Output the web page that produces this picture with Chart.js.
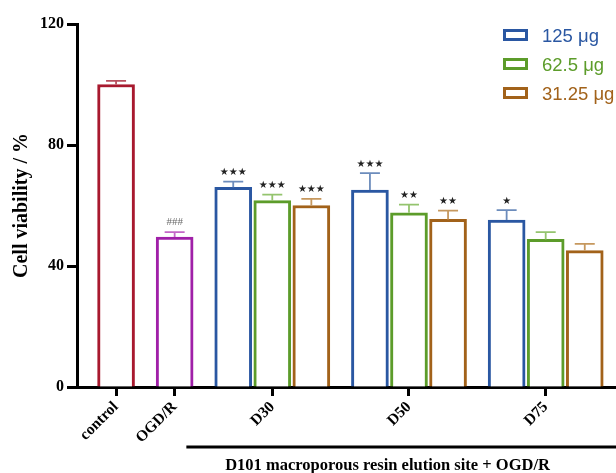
<!DOCTYPE html>
<html>
<head>
<meta charset="utf-8">
<script src="https://cdn.jsdelivr.net/npm/chart.js@4"></script>
<style>
  html, body { margin: 0; padding: 0; background: #fff; }
  #wrap { width: 616px; height: 473px; }
</style>
</head>
<body>
<div id="wrap"><canvas id="chart" width="616" height="473"></canvas></div>
<script>
// data
const categories = ["control", "OGD/R", "D30", "D50", "D75"];
const doseLabels = ["125 μg", "62.5 μg", "31.25 μg"];
const refMeans = [100.0, 49.6];      // control, OGD/R
const refErrs = [1.2, 1.6];
const refMarks = ["", "###"];
const dose125 = [66.0, 65.1, 55.2];  // D30, D50, D75
const err125 = [1.9, 5.6, 3.3];
const marks125 = ["***", "***", "*"];
const dose62 = [61.6, 57.6, 48.8];
const err62 = [2.0, 2.7, 2.4];
const marks62 = ["***", "**", ""];
const dose31 = [60.0, 55.4, 45.1];
const err31 = [2.2, 2.9, 2.2];
const marks31 = ["***", "**", ""];
const yTicks = [0, 40, 80, 120];

// layout: slot centres on the linear x scale
const groupCenters = [0, 3, 8, 15, 22];
const doseOffsets = [-2, 0, 2];

const SERIF = "'Liberation Serif', 'Times New Roman', serif";
const SANS = "'Liberation Sans', Arial, sans-serif";

const refColors = ["#a8192e", "#a020a8"];
const refErrColors = ["#b8505e", "#c468c8"];
const doseColors = ["#2a57a2", "#5c9c2a", "#a2621a"];
const doseErrColors = ["#6c8cbc", "#94c46e", "#c6985e"];

const doseSeries = [dose125, dose62, dose31];
const doseErrs = [err125, err62, err31];
const doseMarks = [marks125, marks62, marks31];

const datasets = [];
refMeans.forEach((v, i) => {
  datasets.push({
    label: categories[i],
    data: [{ x: groupCenters[i], y: v }],
    err: [refErrs[i]],
    marks: [refMarks[i]],
    errColor: refErrColors[i],
    borderColor: refColors[i],
    backgroundColor: "#ffffff",
    inLegend: false,
  });
});
doseSeries.forEach((vals, k) => {
  datasets.push({
    label: doseLabels[k],
    data: vals.map((v, g) => ({ x: groupCenters[g + 2] + doseOffsets[k], y: v })),
    err: doseErrs[k],
    marks: doseMarks[k],
    errColor: doseErrColors[k],
    borderColor: doseColors[k],
    backgroundColor: "#ffffff",
    inLegend: true,
  });
});
datasets.forEach(d => {
  d.borderWidth = 3;
  d.barThickness = 37;
  d.grouped = false;
  d.borderSkipped = "bottom";
});

// error bars + significance marks
const errorBars = {
  id: "errorBars",
  afterDatasetsDraw(chart) {
    const { ctx, scales: { y } } = chart;
    ctx.save();
    chart.data.datasets.forEach((ds, di) => {
      const meta = chart.getDatasetMeta(di);
      meta.data.forEach((bar, i) => {
        const v = ds.data[i].y;
        const top = y.getPixelForValue(v + ds.err[i]);
        const base = y.getPixelForValue(v);
        ctx.strokeStyle = ds.errColor;
        ctx.lineWidth = 1.8;
        ctx.beginPath();
        ctx.moveTo(bar.x, base);
        ctx.lineTo(bar.x, top);
        ctx.moveTo(bar.x - 10, top);
        ctx.lineTo(bar.x + 10, top);
        ctx.stroke();
        const m = ds.marks[i];
        if (!m) return;
        ctx.textAlign = "center";
        ctx.textBaseline = "middle";
        if (m[0] === "#") {
          ctx.fillStyle = "#6a6a6a";
          ctx.font = "11px " + SERIF;
          ctx.fillText(m, bar.x, top - 10);
        } else {
          ctx.fillStyle = "#222";
          ctx.font = "10px 'DejaVu Sans'";
          ctx.fillText(m.replace(/\*/g, "★"), bar.x, top - 9);
        }
      });
    });
    ctx.restore();
  },
};

// legend box, group bracket and its caption
const decorations = {
  id: "decorations",
  afterDraw(chart) {
    const { ctx, scales: { x } } = chart;
    ctx.save();
    let row = 0;
    chart.data.datasets.forEach(ds => {
      if (!ds.inLegend) return;
      const cy = 35 + row * 29;
      ctx.strokeStyle = ds.borderColor;
      ctx.lineWidth = 3;
      ctx.strokeRect(504.5, cy - 4.5, 22, 9);
      ctx.fillStyle = ds.borderColor;
      ctx.font = "18.5px " + SANS;
      ctx.textAlign = "left";
      ctx.textBaseline = "middle";
      ctx.fillText(ds.label, 542, cy + 1.5);
      row++;
    });
    const x0 = x.getPixelForValue(3.6);
    const x1 = chart.width;
    ctx.strokeStyle = "#000";
    ctx.lineWidth = 3;
    ctx.beginPath();
    ctx.moveTo(x0, 447);
    ctx.lineTo(x1, 447);
    ctx.stroke();
    ctx.fillStyle = "#000";
    ctx.font = "bold 16.5px " + SERIF;
    ctx.textAlign = "center";
    ctx.textBaseline = "middle";
    ctx.fillText("D101 macroporous resin elution site + OGD/R", x.getPixelForValue(13.9), 466);
    ctx.restore();
  },
};

new Chart(document.getElementById("chart"), {
  type: "bar",
  data: { datasets },
  options: {
    responsive: false,
    animation: false,
    layout: { padding: { top: 24, right: 0, left: 0, bottom: 0 } },
    plugins: {
      legend: { display: false },
      tooltip: { enabled: false },
    },
    scales: {
      x: {
        type: "linear",
        min: -2,
        max: 25.6,
        offset: false,
        afterBuildTicks(scale) {
          scale.ticks = groupCenters.map(v => ({ value: v }));
        },
        afterFit(scale) { scale.height = 86; },
        border: { display: true, color: "#000", width: 3 },
        grid: {
          offset: false,
          drawOnChartArea: false,
          drawTicks: true,
          tickLength: 9,
          tickWidth: 3,
          tickColor: "#000",
          color: "#000",
        },
        ticks: {
          autoSkip: false,
          minRotation: 45,
          maxRotation: 45,
          padding: 2,
          color: "#000",
          font: { family: SERIF, size: 15.5, weight: "bold" },
          callback: v => categories[groupCenters.indexOf(v)] ?? "",
        },
      },
      y: {
        min: 0,
        max: 120,
        afterBuildTicks(scale) {
          scale.ticks = yTicks.map(v => ({ value: v }));
        },
        afterFit(scale) { scale.width = 77; },
        border: { display: true, color: "#000", width: 3 },
        grid: {
          drawOnChartArea: false,
          drawTicks: true,
          tickLength: 10,
          tickWidth: 3,
          tickColor: "#000",
          color: "#000",
        },
        ticks: {
          padding: 3,
          color: "#000",
          font: { family: SERIF, size: 16, weight: "bold" },
        },
        title: {
          display: true,
          text: "Cell viability / %",
          color: "#000",
          font: { family: SERIF, size: 20, weight: "bold" },
          padding: { top: 10, bottom: 0 },
        },
      },
    },
  },
  plugins: [errorBars, decorations],
});
</script>
</body>
</html>
